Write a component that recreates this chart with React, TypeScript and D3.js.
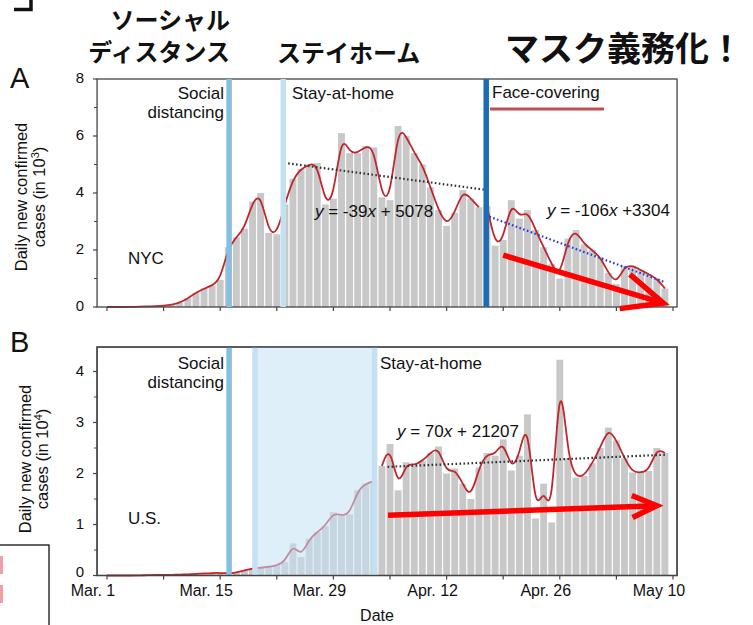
import React from "react";
import * as d3 from "d3";

const W = 753;
const H = 625;

// NYC daily new confirmed cases (in 10^3), Mar 1 .. May 9
const nycCases = [
  0, 0, 0, 0, 0.01, 0.02, 0.03, 0.05, 0.08, 0.15,
  0.3, 0.5, 0.65, 0.75, 0.95, 2.1, 2.45, 2.75, 3.7, 4.0,
  2.6, 2.55, 3.6, 4.5, 4.85, 5.0, 5.05, 3.6, 3.8, 6.1,
  5.4, 5.4, 5.65, 5.6, 3.85, 3.75, 6.35, 6.0, 5.4, 5.0,
  4.2, 3.4, 2.85, 3.3, 4.1, 3.8, 3.5, 3.55, 2.15, 2.35,
  3.75, 3.1, 3.4, 2.7, 2.1, 1.5, 1.0, 2.4, 2.7, 2.2,
  2.0, 1.75, 1.2, 0.8, 1.45, 1.45, 1.3, 1.15, 1.0, 0.65,
];

// U.S. daily new confirmed cases (in 10^4), Mar 1 .. May 9
const usCases = [
  0, 0, 0, 0, 0, 0.01, 0.01, 0.01, 0.01, 0.02,
  0.02, 0.03, 0.04, 0.05, 0.05, 0.04, 0.06, 0.1, 0.14, 0.15,
  0.17, 0.2, 0.26, 0.63, 0.36, 0.72, 0.85, 0.97, 1.24, 1.17,
  1.2, 1.67, 1.8, 1.85, 2.15, 2.58, 1.67, 2.22, 2.15, 2.25,
  2.4, 2.53, 2.0, 2.1, 1.8, 1.5, 2.12, 2.4, 2.35, 2.67,
  2.06, 2.35, 3.16, 1.12, 1.8, 1.04, 4.23, 2.3, 1.92, 1.95,
  2.2, 2.5, 2.9, 2.65, 2.3, 2.02, 2.02, 2.05, 2.5, 2.4,
];

// smoothing segments (start day, end day)
const segmentsA = [[0, 22], [22, 46], [47, 69]];
const segmentsB = [[0, 33], [34, 69]];

const xTickDays = [0, 14, 28, 42, 56, 70];
const xTickLabels = ["Mar. 1", "Mar. 15", "Mar. 29", "Apr. 12", "Apr. 26", "May 10"];
const yTicksA = [0, 2, 4, 6, 8];
const yMinorA = [1, 3, 5, 7];
const yTicksB = [0, 1, 2, 3, 4];
const yMinorB = [0.5, 1.5, 2.5, 3.5];

// intervention days
const socialDay = 15.1;
const stayDayA = 21.8;
const faceDay = 46.9;
const bandStartB = 18.3;
const bandEndB = 33.1;

// trend lines endpoints [day, value]
const trendA1 = [[22.4, 5.04], [46.6, 4.12]];
const trendA2 = [[47.3, 3.17], [69.0, 0.87]];
const trendB = [[34.7, 2.13], [69.3, 2.37]];

// red annotation arrows [day, value]
const arrowA = [[49.0, 1.82], [68.8, 0.14]];
const arrowB = [[34.75, 1.18], [68.0, 1.37]];

const x = d3.scaleLinear().domain([0, 70]).range([107, 673]);
const yA = d3.scaleLinear().domain([0, 8]).range([307, 79]);
const yB = d3.scaleLinear().domain([0, 4]).range([575.5, 371.5]);

const FONT = "'Liberation Sans', Arial, Helvetica, sans-serif";
const JFONT = "'Noto Sans CJK JP', 'Noto Sans CJK SC', sans-serif";

const BAR = "#c8c8c8";
const CURVE = "#c0272d";
const SOCIAL = "#86bfe0";
const STAY = "#c4e1f2";
const FACE = "#1c6cb4";

function Arrow({ pts, y, len }: { pts: number[][]; y: any; len: number }) {
  const x0 = x(pts[0][0]);
  const y0 = y(pts[0][1]);
  const x1 = x(pts[1][0]);
  const y1 = y(pts[1][1]);
  const ang = Math.atan2(y0 - y1, x0 - x1);
  const ha = (24 * Math.PI) / 180;
  const a1 = [x1 + len * Math.cos(ang - ha), y1 + len * Math.sin(ang - ha)];
  const a2 = [x1 + len * Math.cos(ang + ha), y1 + len * Math.sin(ang + ha)];
  return (
    <g stroke="#fe0000" strokeWidth={5.5} fill="none" strokeLinecap="butt" strokeLinejoin="miter">
      <line x1={x0} y1={y0} x2={x1} y2={y1} />
      <polyline points={`${a1[0]},${a1[1]} ${x1},${y1} ${a2[0]},${a2[1]}`} />
    </g>
  );
}

function Panel({ data, y, segments, top, bottom, yTicks, yMinor, showXLabels, zeroShift }: any) {
  const left = x(-1.23);
  const right = x(70.5);
  const bw = x(1) - x(0) - 1.2;
  return (
    <g>
      {data.map((v: number, i: number) => (
        <rect key={i} x={x(i) - bw / 2} y={y(v)} width={bw} height={Math.max(0, y(0) - y(v))} fill={BAR} />
      ))}
      {segments.map((s: number[], k: number) => {
        const pts = d3.range(s[0], s[1] + 1).map((d: number) => [x(d), y(data[d])] as [number, number]);
        const g = d3.line().curve(d3.curveBasis)(pts);
        return <path key={k} d={g || ""} fill="none" stroke={CURVE} strokeWidth={1.8} />;
      })}
      <rect x={left} y={top} width={right - left} height={bottom - top} fill="none" stroke="#444" strokeWidth={1.3} />
      {yTicks.map((t: number) => (
        <g key={"yt" + t}>
          <line x1={left - 4} x2={left} y1={y(t)} y2={y(t)} stroke="#444" strokeWidth={1.2} />
          <text
            x={left - 13}
            y={y(t) - 1 - (t === 0 ? zeroShift : 0)}
            dy="0.36em"
            textAnchor="end"
            fontSize={15}
            fontFamily={FONT}
            fill="#111"
          >
            {t}
          </text>
        </g>
      ))}
      {yMinor.map((t: number) => (
        <line key={"ym" + t} x1={left - 3} x2={left} y1={y(t)} y2={y(t)} stroke="#444" strokeWidth={1} />
      ))}
      {d3.range(0, 71, 7).map((d: number) => (
        <line key={"xt" + d} x1={x(d)} x2={x(d)} y1={bottom} y2={bottom + 4} stroke="#444" strokeWidth={1.2} />
      ))}
      {showXLabels &&
        xTickDays.map((d: number, i: number) => (
          <text key={"xl" + d} x={x(d) - 14} y={bottom + 20.5} textAnchor="middle" fontSize={16} fontFamily={FONT} fill="#111">
            {xTickLabels[i]}
          </text>
        ))}
    </g>
  );
}

export default function App() {
  const topA = yA(8);
  const botA = yA(0);
  const topB = yB(4.48);
  const botB = yB(0);
  const vline = (d: number, col: string, w: number, t: number, b: number, k: string) => (
    <rect key={k} x={x(d) - w / 2} y={t} width={w} height={b - t} fill={col} />
  );
  const trend = (pts: number[][], y: any, col: string, w: number) => (
    <line
      x1={x(pts[0][0])}
      y1={y(pts[0][1])}
      x2={x(pts[1][0])}
      y2={y(pts[1][1])}
      stroke={col}
      strokeWidth={w}
      strokeDasharray="1.6,2.4"
    />
  );
  return (
    <svg width={W} height={H} style={{ position: "absolute", left: 0, top: 0, background: "#fff" }}>
      <rect x={0} y={0} width={W} height={H} fill="#fff" />
      <path d="M 31 0 V 9.5 H 14" fill="none" stroke="#111" strokeWidth={3.5} />

      <g fontFamily={JFONT} fontWeight={700} fill="#111">
        <text x={230} y={29} fontSize={24} textAnchor="end">ソーシャル</text>
        <text x={230} y={61} fontSize={24} textAnchor="end">ディスタンス</text>
        <text x={277} y={62} fontSize={24}>ステイホーム</text>
        <text x={505} y={61} fontSize={34}>マスク義務化！</text>
      </g>

      {/* Panel A */}
      <text x={10} y={88} fontSize={29} fontFamily={FONT} fill="#111">A</text>
      <Panel data={nycCases} y={yA} segments={segmentsA} top={topA} bottom={botA} yTicks={yTicksA} yMinor={yMinorA} showXLabels={false} zeroShift={0} />
      {trend(trendA1, yA, "#333", 2.2)}
      {trend(trendA2, yA, "#2b3bd8", 2.2)}
      {vline(socialDay, SOCIAL, 5.5, topA, botA, "sa")}
      {vline(stayDayA, STAY, 5.5, topA, botA, "st")}
      {vline(faceDay, FACE, 5.5, topA, botA, "fc")}
      <g fontFamily={FONT} fontSize={17} fill="#111">
        <text x={224} y={99} textAnchor="end">Social</text>
        <text x={224} y={118} textAnchor="end">distancing</text>
        <text x={292} y={99}>Stay-at-home</text>
        <text x={492} y={98}>Face-covering</text>
        <text x={128} y={264}>NYC</text>
        <text x={315} y={217}>
          <tspan fontStyle="italic">y</tspan> = -39<tspan fontStyle="italic">x</tspan> + 5078
        </text>
        <text x={547} y={216}>
          <tspan fontStyle="italic">y</tspan> = -106<tspan fontStyle="italic">x</tspan> +3304
        </text>
      </g>
      <rect x={490} y={107.5} width={114} height={3} fill="#c0504d" />
      <text transform={`translate(27,197) rotate(-90)`} textAnchor="middle" fontSize={16.5} fontFamily={FONT} fill="#111">
        Daily new confirmed
      </text>
      <text transform={`translate(45,197) rotate(-90)`} textAnchor="middle" fontSize={16.5} fontFamily={FONT} fill="#111">
        cases (in 10<tspan fontSize={11} dy={-6}>3</tspan><tspan dy={6}>)</tspan>
      </text>
      <Arrow pts={arrowA} y={yA} len={44} />

      {/* Panel B */}
      <text x={10} y={352} fontSize={29} fontFamily={FONT} fill="#111">B</text>
      <Panel data={usCases} y={yB} segments={segmentsB} top={topB} bottom={botB} yTicks={yTicksB} yMinor={yMinorB} showXLabels={true} zeroShift={3} />
      {trend(trendB, yB, "#333", 2.2)}
      <rect x={x(bandStartB)} y={topB} width={x(bandEndB) - x(bandStartB)} height={botB - topB} fill="#c4e2f5" opacity={0.55} />
      {vline(bandStartB, STAY, 5.5, topB, botB, "b1")}
      {vline(bandEndB, STAY, 5.5, topB, botB, "b2")}
      {vline(socialDay, SOCIAL, 5.5, topB, botB, "b0")}
      <rect x={x(-1.23)} y={topB} width={x(70.5) - x(-1.23)} height={botB - topB} fill="none" stroke="#444" strokeWidth={1.3} />
      <g fontFamily={FONT} fontSize={17} fill="#111">
        <text x={224} y={369} textAnchor="end">Social</text>
        <text x={224} y={388} textAnchor="end">distancing</text>
        <text x={380} y={369}>Stay-at-home</text>
        <text x={128} y={524}>U.S.</text>
        <text x={397} y={437}>
          <tspan fontStyle="italic">y</tspan> = 70<tspan fontStyle="italic">x</tspan> + 21207
        </text>
      </g>
      <text x={377} y={621} textAnchor="middle" fontFamily={FONT} fontSize={16} fill="#111">Date</text>
      <text transform={`translate(31,459) rotate(-90)`} textAnchor="middle" fontSize={16.5} fontFamily={FONT} fill="#111">
        Daily new confirmed
      </text>
      <text transform={`translate(48,459) rotate(-90)`} textAnchor="middle" fontSize={16.5} fontFamily={FONT} fill="#111">
        cases (in 10<tspan fontSize={11} dy={-6}>4</tspan><tspan dy={6}>)</tspan>
      </text>
      <Arrow pts={arrowB} y={yB} len={27} />

      <rect x={-2} y={545} width={51} height={90} fill="#fff" stroke="#111" strokeWidth={1.3} />
      <rect x={0} y={556} width={3} height={18} fill="#e8787a" opacity={0.7} />
      <rect x={0} y={585} width={3} height={18} fill="#e8787a" opacity={0.7} />
    </svg>
  );
}
